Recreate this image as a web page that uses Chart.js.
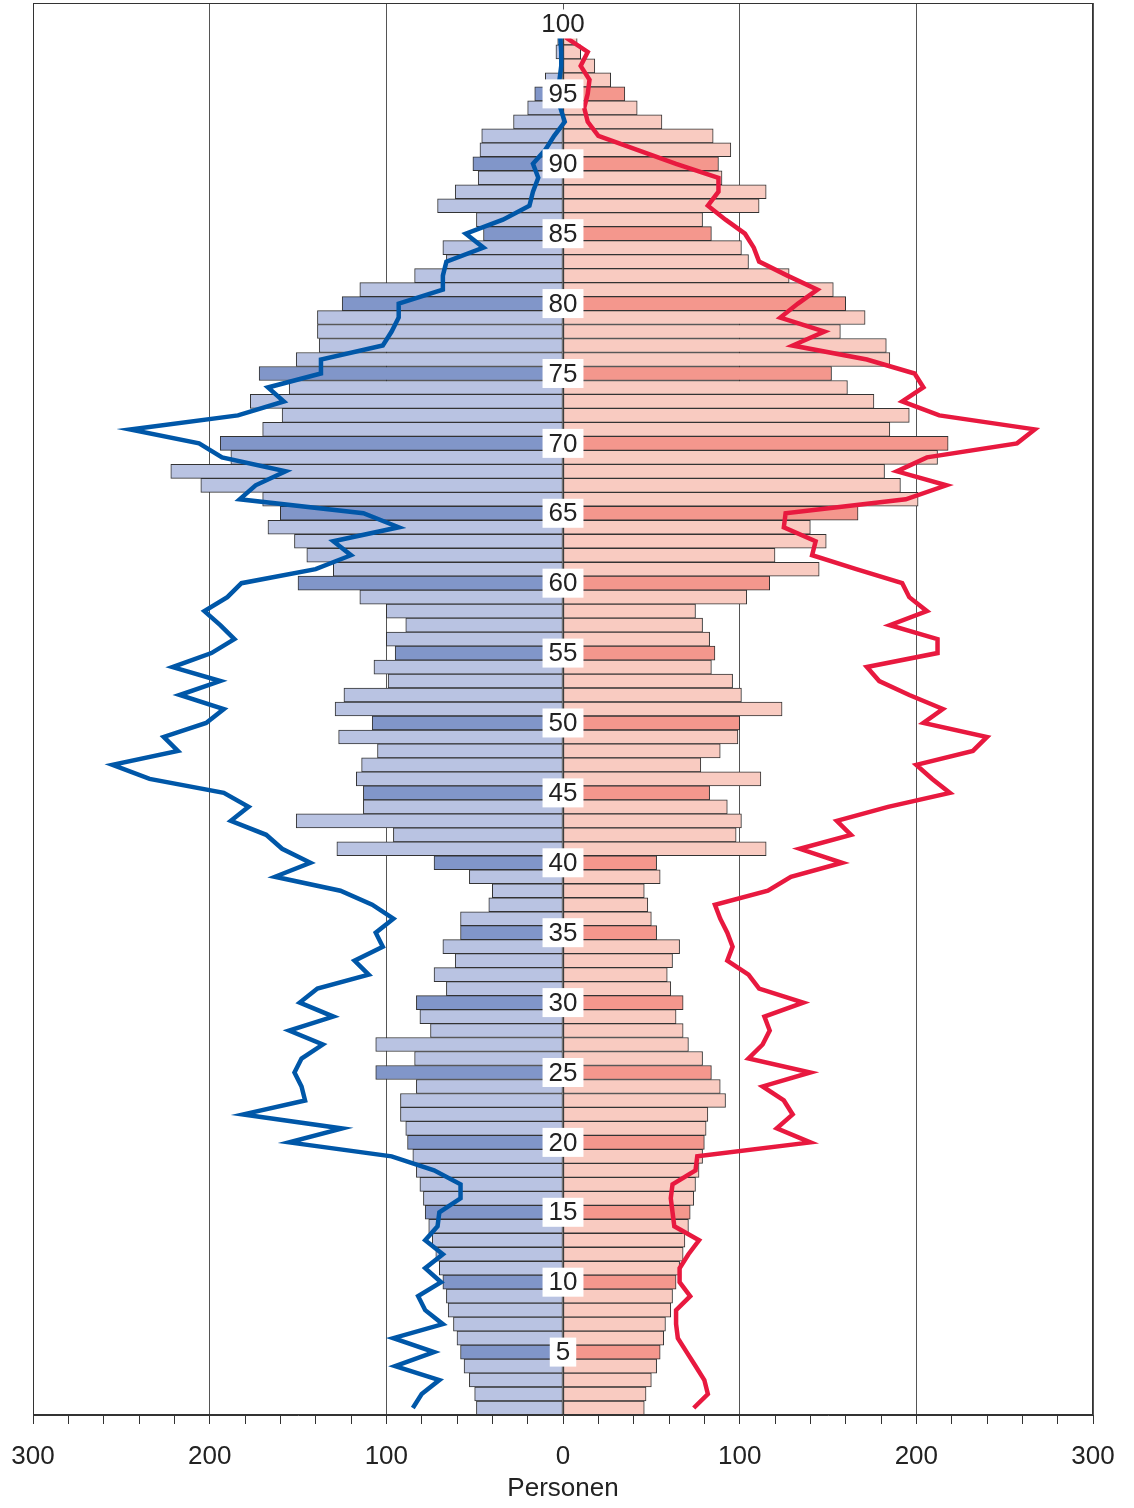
<!DOCTYPE html>
<html>
<head>
<meta charset="utf-8">
<script src="https://cdn.jsdelivr.net/npm/chart.js@4.4.1/dist/chart.umd.min.js"></script>
<style>
  html, body { margin: 0; padding: 0; background: #fff; }
</style>
</head>
<body>
<canvas id="pyramid" width="1134" height="1508"></canvas>
<script>
// values per age, index 0 = age 1 ... index 99 = age 100
var maleBars = [49, 50, 53, 56, 58, 60, 62, 65, 66, 68,
    70, 72, 74, 76, 78, 79, 81, 83, 85, 88,
    89, 92, 92, 83, 106, 84, 106, 75, 81, 83,
    66, 73, 61, 68, 58, 58, 42, 40, 53, 73,
    128, 96, 151, 113, 113, 117, 114, 105, 127, 108,
    129, 124, 99, 107, 95, 100, 89, 100, 115, 150,
    130, 145, 152, 167, 160, 170, 205, 222, 188, 194,
    170, 159, 177, 155, 172, 151, 138, 139, 139, 125,
    115, 84, 66, 68, 45, 49, 71, 61, 48, 51,
    47, 46, 28, 20, 16, 10, 2, 4, 3, 1];
var femaleBars = [46, 47, 50, 53, 55, 57, 58, 61, 62, 64,
    66, 68, 69, 71, 72, 74, 75, 77, 79, 80,
    81, 82, 92, 89, 84, 79, 71, 68, 64, 68,
    61, 59, 62, 66, 53, 50, 48, 46, 55, 53,
    115, 98, 101, 93, 83, 112, 78, 89, 99, 100,
    124, 101, 96, 84, 86, 83, 79, 75, 104, 117,
    145, 120, 149, 140, 167, 201, 191, 182, 212, 218,
    185, 196, 176, 161, 152, 185, 183, 157, 171, 160,
    153, 128, 105, 101, 84, 79, 111, 115, 90, 88,
    95, 85, 56, 42, 35, 27, 18, 10, 8, 3];
var maleLine = [85, 80, 70, 95, 73, 96, 68, 78, 82, 69,
    78, 68, 78, 71, 70, 58, 58, 73, 97, 155,
    125, 181, 146, 148, 152, 148, 136, 155, 130, 149,
    139, 110, 118, 102, 106, 96, 108, 126, 163, 143,
    159, 168, 188, 178, 192, 234, 255, 218, 226, 202,
    192, 217, 194, 221, 199, 186, 194, 203, 190, 182,
    140, 120, 130, 93, 113, 183, 174, 157, 193, 206,
    245, 184, 158, 167, 137, 137, 102, 97, 93, 93,
    68, 68, 66, 45, 55, 34, 19, 17, 14, 17,
    10, 5, -1, 1.5, 2.5, 2, 1, 1, 1.5, 1];
var femaleLine = [74, 82, 80, 75, 70, 65, 64, 64, 72, 66,
    66, 71, 77, 63, 62, 61, 62, 75, 76, 140,
    121, 130, 125, 113, 140, 105, 113, 117, 114, 136,
    111, 105, 93, 96, 93, 89, 86, 116, 129, 158,
    134, 163, 155, 184, 219, 209, 200, 232, 240, 204,
    215, 196, 179, 172, 212, 212, 185, 206, 196, 192,
    166, 141, 143, 125, 126, 194, 217, 189, 206, 257,
    267, 213, 192, 204, 199, 172, 130, 148, 123, 133,
    144, 127, 111, 108, 103, 92, 82, 88, 88, 64,
    42, 20, 14, 12, 14, 15, 10, 14, 2, 1];
var ageTicks = [5, 10, 15, 20, 25, 30, 35, 40, 45, 50,
    55, 60, 65, 70, 75, 80, 85, 90, 95, 100];
var xTicks = [-300, -200, -100, 0, 100, 200, 300];

var fontFamily = '"Liberation Sans", Arial, sans-serif';
Chart.defaults.font.family = fontFamily;
Chart.defaults.color = '#222';

// rows from top (101, empty) down to age 1
var ages = [];
for (var a = 101; a >= 1; a--) ages.push(a);
var labels = ages.map(String);

function byRow(arr, sign) {
    return ages.map(function (age) {
        var v = arr[age - 1];
        return v === undefined ? null : sign * v;
    });
}

var blueLight = '#b9c3e2', blueDark = '#8196c9';
var redLight = '#f9cbc1', redDark = '#f4978d';

var overlay = {
    id: 'overlay',
    afterDatasetsDraw: function (chart) {
        var ctx = chart.ctx, area = chart.chartArea;
        var xs = chart.scales.x, ys = chart.scales.y;
        ctx.save();
        ctx.strokeStyle = '#333';
        ctx.lineWidth = 1;
        ctx.strokeRect(area.left + 0.5, area.top + 0.5, area.right - area.left - 1, area.bottom - area.top - 1);

        ctx.font = '26px ' + fontFamily;
        ctx.textAlign = 'center';
        ctx.textBaseline = 'middle';
        var cx = xs.getPixelForValue(0);
        ageTicks.forEach(function (age) {
            var cy = ys.getPixelForValue(labels.indexOf(String(age)));
            var txt = String(age);
            var w = ctx.measureText(txt).width + 12;
            ctx.fillStyle = '#fff';
            ctx.fillRect(cx - w / 2, cy - 14.5, w, 29);
            ctx.fillStyle = '#222';
            ctx.fillText(txt, cx, cy + 1);
        });
        ctx.restore();
    }
};

var ctx = document.getElementById('pyramid').getContext('2d');
var pyramid = new Chart(ctx, {
    type: 'bar',
    data: {
        labels: labels,
        datasets: [{
            label: 'Männer',
            data: byRow(maleBars, -1),
            backgroundColor: ages.map(function (a) { return a % 5 === 0 ? blueDark : blueLight; }),
            borderColor: '#333',
            borderWidth: 1,
            borderSkipped: false,
            order: 2
        }, {
            label: 'Frauen',
            data: byRow(femaleBars, 1),
            backgroundColor: ages.map(function (a) { return a % 5 === 0 ? redDark : redLight; }),
            borderColor: '#333',
            borderWidth: 1,
            borderSkipped: false,
            order: 2
        }, {
            type: 'line',
            label: 'Männer Vergleich',
            data: byRow(maleLine, -1),
            borderColor: '#0057a8',
            borderWidth: 4.5,
            pointRadius: 0,
            fill: false,
            tension: 0,
            order: 1
        }, {
            type: 'line',
            label: 'Frauen Vergleich',
            data: byRow(femaleLine, 1),
            borderColor: '#e8193f',
            borderWidth: 4.5,
            pointRadius: 0,
            fill: false,
            tension: 0,
            order: 1
        }]
    },
    options: {
        indexAxis: 'y',
        responsive: false,
        animation: false,
        grouped: false,
        categoryPercentage: 1.0,
        barPercentage: 1.0,
        layout: {
            padding: { left: 33, right: 41, top: 3, bottom: 0 }
        },
        plugins: {
            legend: { display: false },
            tooltip: { enabled: false }
        },
        scales: {
            y: {
                type: 'category',
                display: false,
                offset: true
            },
            x: {
                type: 'linear',
                min: -300,
                max: 300,
                ticks: {
                    stepSize: 20,
                    autoSkip: false,
                    maxRotation: 0,
                    padding: 17,
                    font: { size: 26 },
                    callback: function (v) {
                        return xTicks.indexOf(v) >= 0 ? String(Math.abs(v)) : '';
                    }
                },
                grid: {
                    color: function (c) {
                        return c.tick && xTicks.indexOf(c.tick.value) >= 0 ? '#555' : 'rgba(0,0,0,0)';
                    },
                    tickColor: '#333',
                    tickLength: 9
                },
                border: { color: '#333', width: 1 },
                title: {
                    display: true,
                    text: 'Personen',
                    font: { size: 26 },
                    padding: { top: 1, bottom: 4 }
                },
                afterFit: function (scale) {
                    scale.height = 93;
                    scale.paddingLeft = 0;
                    scale.paddingRight = 0;
                }
            }
        }
    },
    plugins: [overlay]
});
</script>
</body>
</html>
